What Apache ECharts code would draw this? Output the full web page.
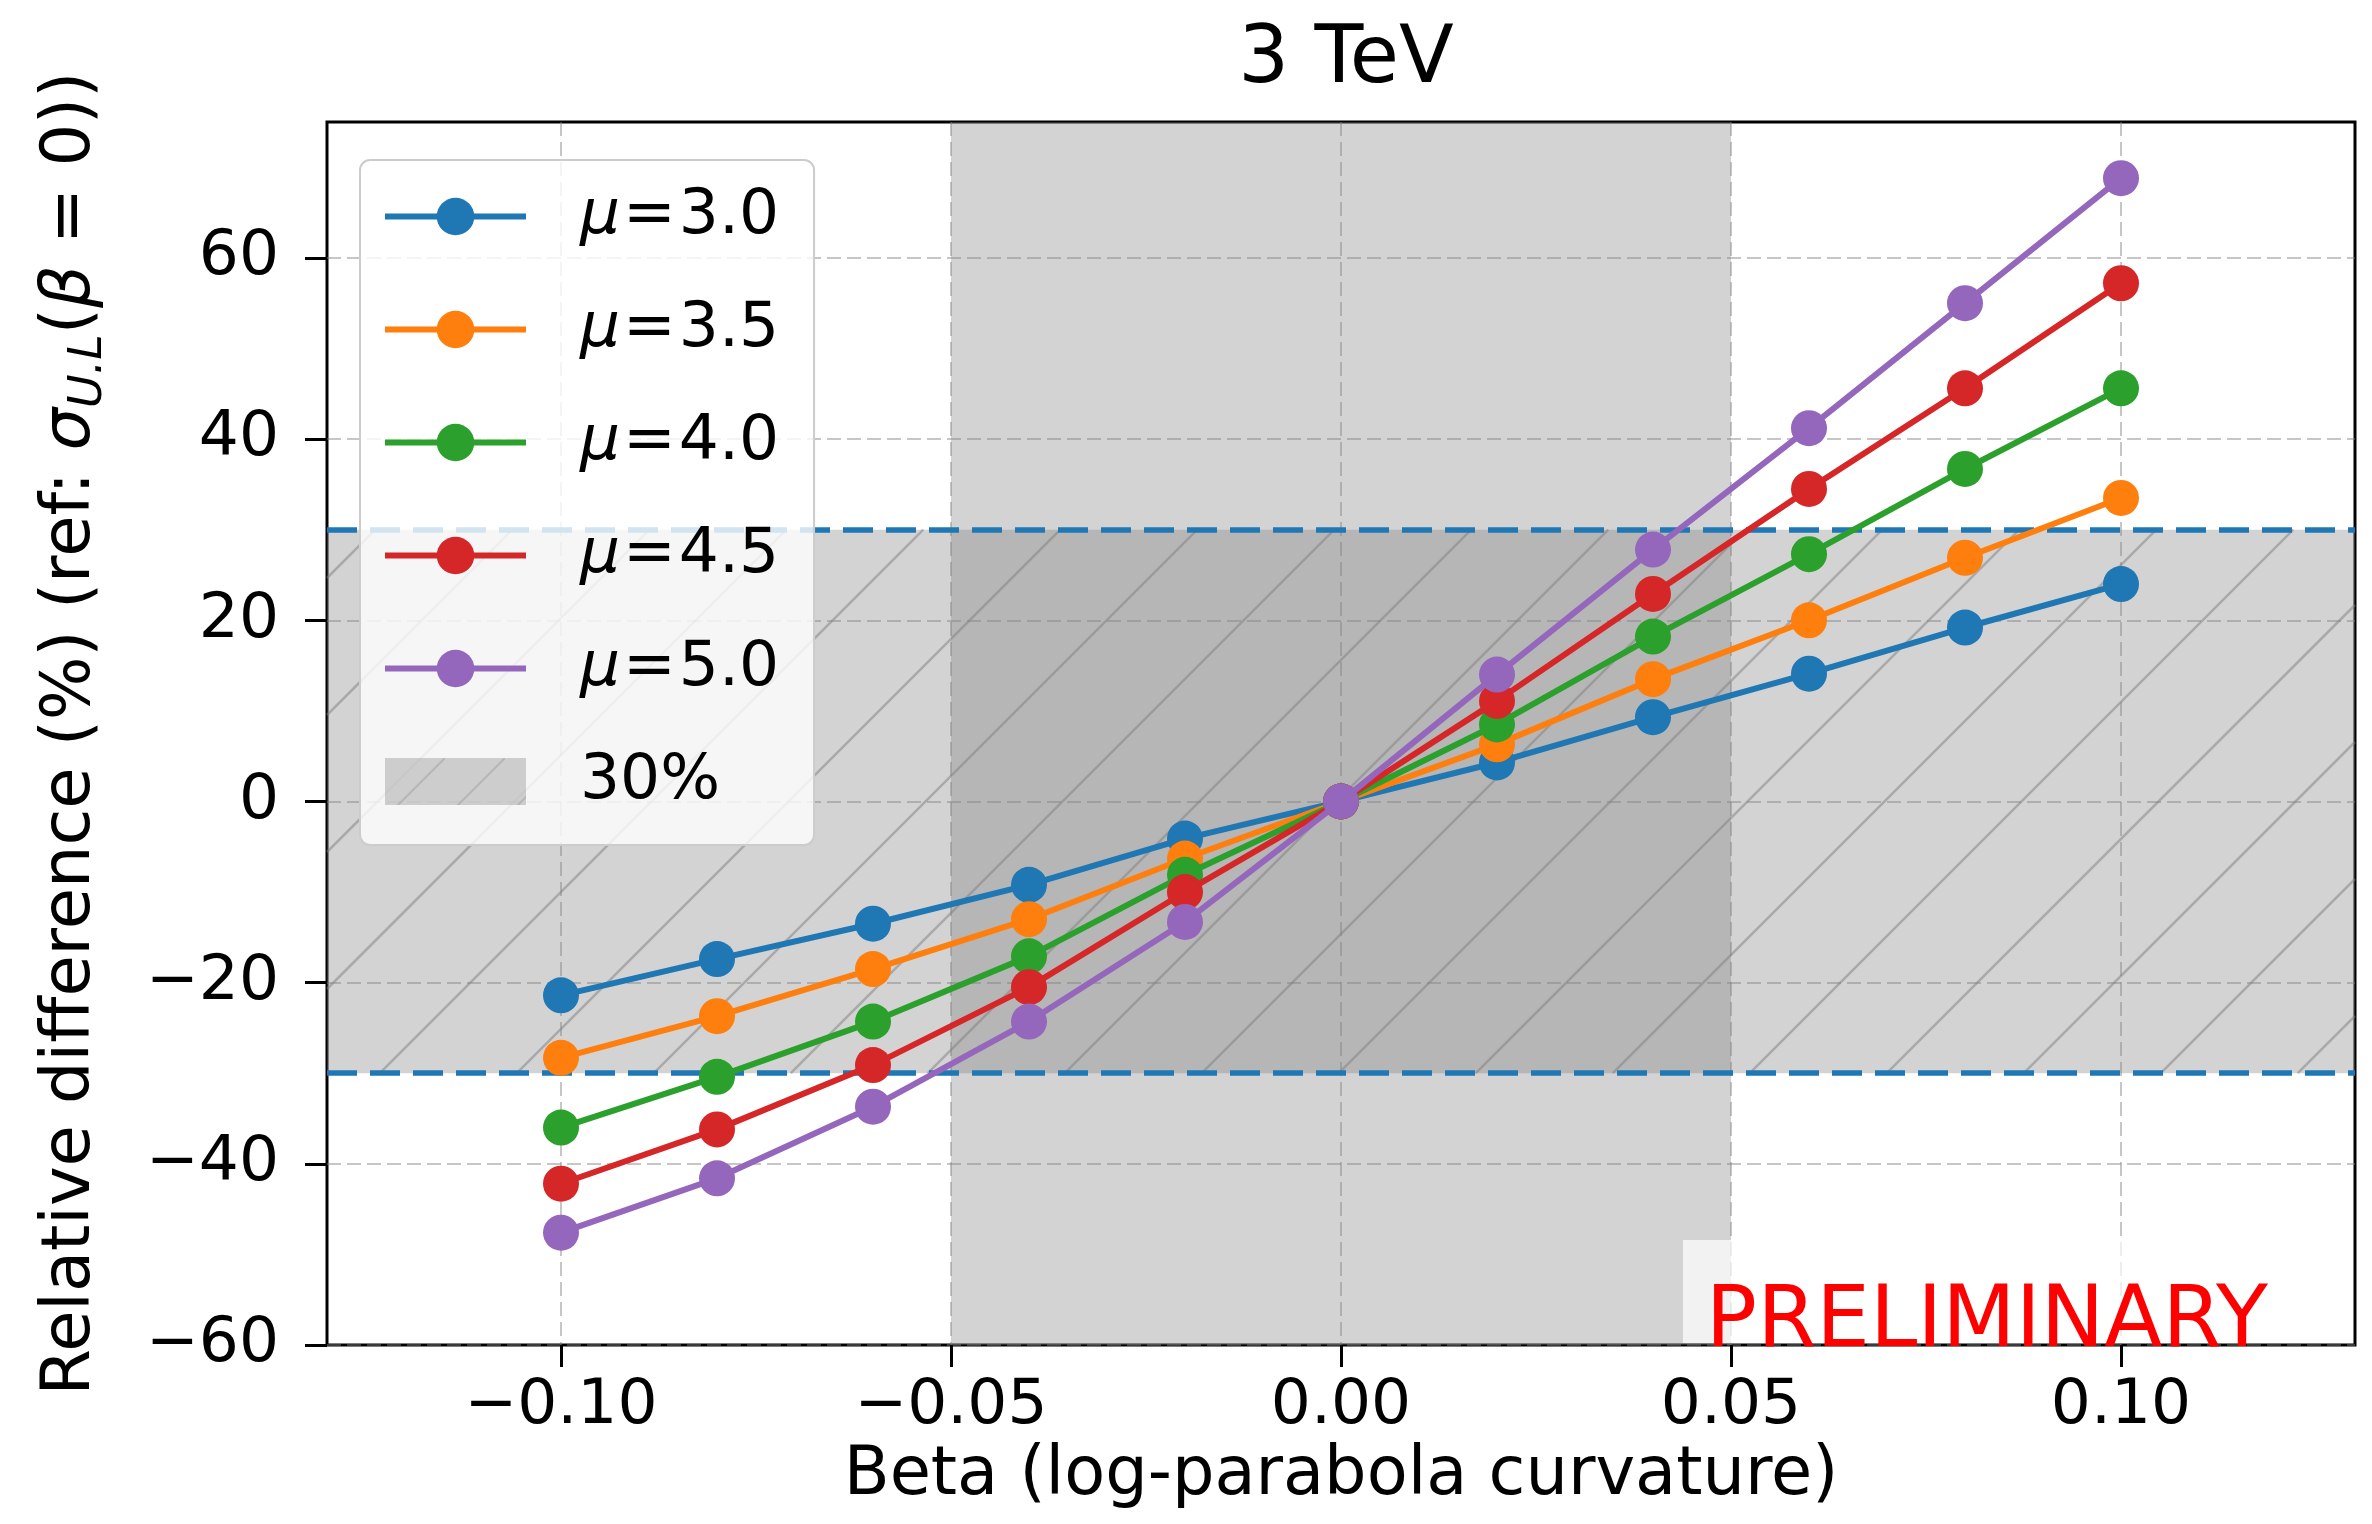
<!DOCTYPE html>
<html>
<head>
<meta charset="utf-8">
<script src="https://cdn.jsdelivr.net/npm/echarts@6/dist/echarts.min.js"></script>
<style>html,body{margin:0;padding:0;background:#fff;}#c{width:2372px;height:1524px;}</style>
</head>
<body>
<div id="c"></div>
<script>
// ---- data ----
const betas = [-0.10, -0.08, -0.06, -0.04, -0.02, 0.00, 0.02, 0.04, 0.06, 0.08, 0.10];
const mu30 = [-21.4, -17.4, -13.5, -9.2, -4.1, 0, 4.3, 9.3, 14.1, 19.2, 24.0];
const mu35 = [-28.3, -23.7, -18.5, -13.0, -6.3, 0, 6.3, 13.5, 20.0, 26.9, 33.5];
const mu40 = [-36.0, -30.4, -24.3, -17.1, -8.1, 0, 8.5, 18.2, 27.3, 36.7, 45.6];
const mu45 = [-42.2, -36.2, -29.1, -20.5, -10.0, 0, 11.1, 22.9, 34.5, 45.6, 57.2];
const mu50 = [-47.6, -41.6, -33.7, -24.3, -13.3, 0, 14.0, 27.8, 41.2, 55.0, 68.8];
const seriesNames = ['μ=3.0', 'μ=3.5', 'μ=4.0', 'μ=4.5', 'μ=5.0'];
const seriesValues = [mu30, mu35, mu40, mu45, mu50];
const seriesColors = ['#1f77b4', '#ff7f0e', '#2ca02c', '#d62728', '#9467bd'];
const yTicks = [-60, -40, -20, 0, 20, 40, 60];
const xTicks = [-0.10, -0.05, 0.00, 0.05, 0.10];
const bandName = '30%';
const bandLimits = [-30, 30];
const betaBand = [-0.05, 0.05];
const titleText = '3 TeV';
const xLabel = 'Beta (log-parabola curvature)';
const stamp = 'PRELIMINARY';

const FONT = 'DejaVu Sans';
const BAND_FILL = 'rgba(128,128,128,0.35)';
const HATCH_STROKE = 'rgba(128,128,128,0.5)';
const HATCH_STEP = 137, HATCH_OFF = 83;

// small hatch pattern (legend icon only)
function makeHatch() {
  const s = 60;
  const cv = document.createElement('canvas');
  cv.width = s; cv.height = s;
  const ctx = cv.getContext('2d');
  ctx.fillStyle = BAND_FILL;
  ctx.fillRect(0, 0, s, s);
  ctx.strokeStyle = 'rgba(128,128,128,0.3)';
  ctx.lineWidth = 2;
  ctx.beginPath();
  ctx.moveTo(-2, s + 2); ctx.lineTo(s + 2, -2);
  ctx.stroke();
  return cv;
}
const hatchIcon = { image: makeHatch(), repeat: 'repeat' };

const minus = s => s.replace('-', '\u2212');

const chart = echarts.init(document.getElementById('c'), null, { renderer: 'canvas' });

const lineSeries = seriesNames.map((n, i) => ({
  name: n,
  type: 'line',
  data: betas.map((b, j) => [b, seriesValues[i][j]]),
  symbol: 'circle',
  symbolSize: 36,
  color: seriesColors[i],
  lineStyle: { width: 6, color: seriesColors[i] },
  itemStyle: { color: seriesColors[i] },
  emphasis: { disabled: true },
  z: 5 + i
}));

function renderHatch(params, api) {
  const cs = params.coordSys;
  const yTop = api.coord([0, api.value(2)])[1];
  const yBot = api.coord([0, api.value(1)])[1];
  const x0 = cs.x, x1 = cs.x + cs.width;
  const children = [];
  const cmin = x0 + yTop, cmax = x1 + yBot;
  for (let c = Math.ceil((cmin - HATCH_OFF) / HATCH_STEP) * HATCH_STEP + HATCH_OFF; c <= cmax; c += HATCH_STEP) {
    const sx = Math.max(x0, c - yBot);
    const ex = Math.min(x1, c - yTop);
    if (ex > sx) {
      children.push({
        type: 'line',
        shape: { x1: sx, y1: c - sx, x2: ex, y2: c - ex },
        style: { stroke: HATCH_STROKE, lineWidth: 2.5 }
      });
    }
  }
  return { type: 'group', children: children };
}

const option = {
  animation: false,
  backgroundColor: '#fff',
  title: {
    text: titleText,
    left: 1341,
    top: 16,
    textAlign: 'center',
    textStyle: { fontFamily: FONT, fontSize: 80, fontWeight: 'normal', color: '#000' }
  },
  grid: {
    left: 327, top: 122, width: 2028, height: 1223,
    show: true, borderColor: '#000', borderWidth: 3, backgroundColor: 'transparent'
  },
  legend: {
    orient: 'vertical',
    left: 360, top: 160,
    padding: [25, 35, 32, 22],
    itemWidth: 141, itemHeight: 47, itemGap: 50,
    backgroundColor: 'rgba(255,255,255,0.8)',
    borderColor: '#cccccc', borderWidth: 2, borderRadius: 10,
    selectedMode: false,
    z: 30,
    lineStyle: { width: 6 },
    data: seriesNames.map(n => ({ name: n })).concat([{ name: bandName, icon: 'rect', itemStyle: { color: hatchIcon, borderWidth: 0 } }]),
    formatter: function (name) {
      if (name.indexOf('μ') === 0) return '{i|μ}{e|=}{n|' + name.slice(2) + '}';
      return '{n|' + name + '}';
    },
    textStyle: {
      fontFamily: FONT, fontSize: 63, color: '#000', lineHeight: 60, padding: [0, 0, 0, 49],
      rich: {
        n: { fontFamily: FONT, fontSize: 63, lineHeight: 60, color: '#000' },
        i: { fontFamily: FONT, fontSize: 63, lineHeight: 60, fontStyle: 'italic', color: '#000' },
        e: { fontFamily: FONT, fontSize: 63, lineHeight: 60, color: '#000', padding: [0, 3, 0, 3] }
      }
    }
  },
  xAxis: {
    type: 'value',
    min: -0.13, max: 0.13,
    name: xLabel,
    nameLocation: 'middle',
    nameGap: 98,
    nameTextStyle: { fontFamily: FONT, fontSize: 67, color: '#000' },
    axisLine: { show: false, onZero: false },
    axisTick: { show: true, length: 22, inside: false, lineStyle: { color: '#000', width: 3 }, customValues: xTicks },
    axisLabel: {
      customValues: xTicks, margin: 30, fontFamily: FONT, fontSize: 63, color: '#000',
      formatter: v => minus(Number(v).toFixed(2))
    },
    splitLine: { show: true, lineStyle: { color: 'rgba(128,128,128,0.45)', width: 2, type: [14, 6] } }
  },
  yAxis: {
    type: 'value',
    min: -60, max: 75,
    name: '{n|Relative difference (%) (ref: }{i|σ}{s|U.L}{n|(}{i|β}{n| = 0))}',
    nameLocation: 'middle',
    nameRotate: 90,
    nameGap: 215,
    nameTextStyle: {
      fontFamily: FONT, fontSize: 67, color: '#000',
      rich: {
        n: { fontFamily: FONT, fontSize: 67, lineHeight: 80, color: '#000' },
        i: { fontFamily: FONT, fontSize: 67, lineHeight: 80, fontStyle: 'italic', color: '#000' },
        s: { fontFamily: FONT, fontSize: 46, lineHeight: 50, fontStyle: 'italic', verticalAlign: 'bottom', color: '#000' }
      }
    },
    axisLine: { show: false, onZero: false },
    axisTick: { show: true, length: 22, inside: false, lineStyle: { color: '#000', width: 3 }, customValues: yTicks },
    axisLabel: {
      customValues: yTicks, margin: 48, fontFamily: FONT, fontSize: 63, color: '#000',
      formatter: v => minus(String(Math.round(v)))
    },
    splitLine: { show: true, lineStyle: { color: 'rgba(128,128,128,0.45)', width: 2, type: [14, 6] } }
  },
  series: [
    {
      name: 'betaBand', type: 'line', data: [], z: 1, silent: true,
      markArea: {
        silent: true,
        itemStyle: { color: BAND_FILL },
        data: [[{ xAxis: betaBand[0] }, { xAxis: betaBand[1] }]]
      }
    },
    {
      name: bandName, type: 'line', data: [], z: 1, silent: true,
      color: BAND_FILL,
      markArea: {
        silent: true,
        itemStyle: { color: BAND_FILL },
        data: [[{ yAxis: bandLimits[0] }, { yAxis: bandLimits[1] }]]
      }
    },
    {
      name: 'hatch', type: 'custom', z: 2, silent: true,
      data: [[0, bandLimits[0], bandLimits[1]]],
      encode: { x: 0, y: [1, 2] },
      renderItem: renderHatch
    }
  ].concat(lineSeries).concat([
    {
      name: 'limits', type: 'line', data: [], z: 20, silent: true,
      markLine: {
        silent: true,
        symbol: ['none', 'none'],
        label: { show: false },
        lineStyle: { color: '#1f77b4', width: 5.5, type: [30, 13] },
        data: bandLimits.map(v => ({ yAxis: v }))
      }
    }
  ]),
  graphic: [
    {
      type: 'rect',
      right: 102,
      bottom: 181,
      z: 38,
      silent: true,
      shape: { width: 587, height: 103 },
      style: { fill: 'rgba(255,255,255,0.7)' }
    },
    {
      type: 'text',
      right: 104,
      bottom: 158,
      z: 40,
      silent: true,
      style: {
        text: stamp,
        fontFamily: FONT,
        fontSize: 85,
        fill: '#ff0000'
      }
    }
  ]
};
chart.setOption(option);
</script>
</body>
</html>
